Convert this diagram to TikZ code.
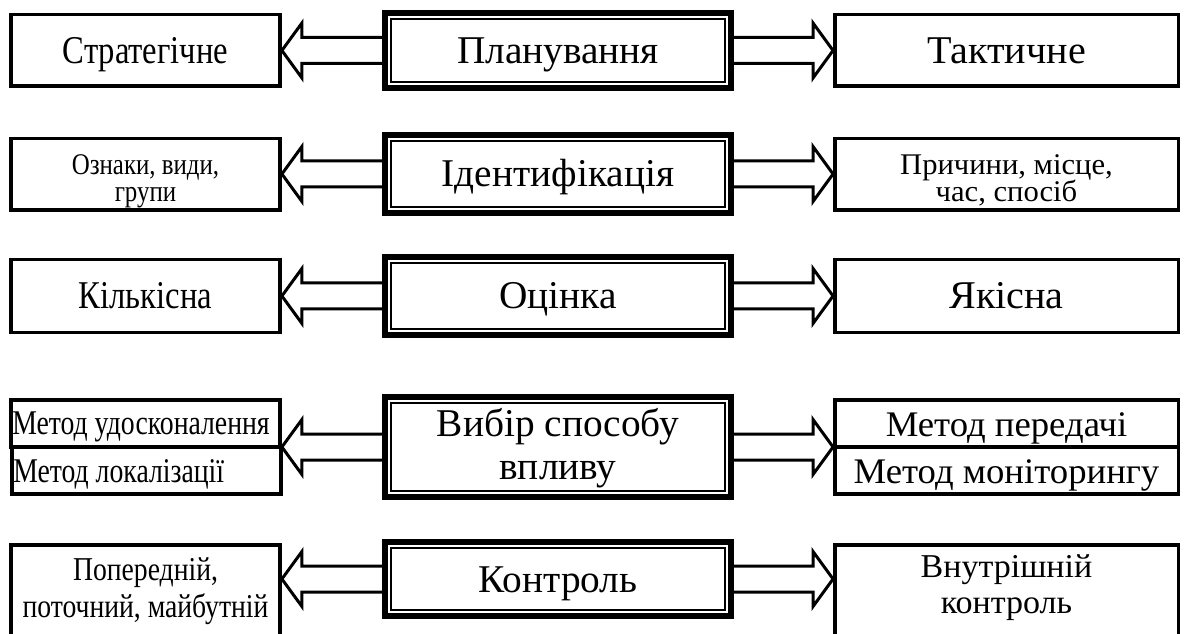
\documentclass[tikz,border=0pt]{standalone}
\usepackage{fontspec}
\setmainfont{Liberation Serif}
\newfontfamily\fL[FakeStretch=0.83]{Liberation Serif}
\newfontfamily\fLm[FakeStretch=0.8]{Liberation Serif}
\newfontfamily\fC[FakeStretch=1.0]{Liberation Serif}
\newfontfamily\fR[FakeStretch=1.02]{Liberation Serif}
\usetikzlibrary{calc}
\newcommand\leftarr[2]{\draw[arr] let \p1=(#1), \p2=(#2) in
  (\x1,\y1+9.75pt) -- (\x2+15pt,\y1+9.75pt) -- (\x2+15pt,\y1+20.6pt) -- (\x2,\y1)
  -- (\x2+15pt,\y1-20.6pt) -- (\x2+15pt,\y1-9.75pt) -- (\x1,\y1-9.75pt);}
\newcommand\rightarr[2]{\draw[arr] let \p1=(#1), \p2=(#2) in
  (\x1,\y1+9.75pt) -- (\x2-15pt,\y1+9.75pt) -- (\x2-15pt,\y1+20.6pt) -- (\x2,\y1)
  -- (\x2-15pt,\y1-20.6pt) -- (\x2-15pt,\y1-9.75pt) -- (\x1,\y1-9.75pt);}
\newcommand\innerframe[1]{\draw[innerline] ($(#1.north west)+(9,9)$) rectangle ($(#1.south east)+(-9,-9)$);}
\begin{document}
\begin{tikzpicture}[x=0.75pt,y=-0.75pt,
  sidebox/.style={draw, line width=2.6pt, inner sep=0pt, align=center},
  lbox/.style={sidebox, minimum width=202pt},
  rbox/.style={sidebox, minimum width=257.6pt},
  mainbox/.style={draw, line width=4.5pt, inner sep=0pt, align=center, minimum width=259.5pt},
  innerline/.style={line width=1.1pt},
  arr/.style={line width=2.25pt, line join=miter},
  capc/.style={text height=19.5pt, text depth=0pt},
  Lbig/.style={font=\fL\fontsize{29.5}{33}\selectfont, capc},
  Cbig/.style={font=\fC\fontsize{29.5}{33}\selectfont, capc},
  Rbig/.style={font=\fR\fontsize{29.5}{33}\selectfont, capc},
  Cln/.style={font=\fC\fontsize{29.5}{33}\selectfont, inner sep=0pt, anchor=base},
  Lsm/.style={font=\fL\fontsize{22.5}{26}\selectfont, inner sep=0pt, anchor=base},
  Rsm/.style={font=\fR\fontsize{22.5}{26}\selectfont, inner sep=0pt, anchor=base},
  Lmd/.style={font=\fLm\fontsize{26}{30}\selectfont, inner sep=0pt, anchor=base west},
  Rmd/.style={font=\fR\fontsize{27}{30}\selectfont, inner sep=0pt, anchor=base},
  L5/.style={font=\fL\fontsize{25}{30}\selectfont, inner sep=0pt, anchor=base},
  R5/.style={font=\fR\fontsize{25}{30}\selectfont, inner sep=0pt, anchor=base}
]
\useasboundingbox (0,0) rectangle (1185,634);
\clip (0,0) rectangle (1185,634);

% Row 1
\node[lbox, minimum height=53.6pt, Lbig] (l1) at (145.5,50.5) {Стратегічне};
\node[mainbox, minimum height=56.25pt, Cbig] (c1) at (558,50.5) {Планування};
\node[rbox, minimum height=53.6pt, Rbig] (r1) at (1006.5,50.5) {Тактичне};

% Row 2
\node[lbox, minimum height=53.6pt] (l2) at (145.5,174.5) {};
\node[Lsm] (l2a) at (145.5,175) {Ознаки, види,};
\node[Lsm] (l2b) at (145.5,202) {групи};
\node[mainbox, minimum height=58.5pt, Cbig] (c2) at (558,174) {Ідентифікація};
\node[rbox, minimum height=53.6pt] (r2) at (1006.5,174.5) {};
\node[Rsm] (r2a) at (1006.5,175) {Причини, місце,};
\node[Rsm] (r2b) at (1006.5,202) {час, спосіб};

% Row 3
\node[lbox, minimum height=54.4pt, Lbig] (l3) at (145.5,296) {Кількісна};
\node[mainbox, minimum height=58.5pt, Cbig] (c3) at (558,296) {Оцінка};
\node[rbox, minimum height=54.4pt, Rbig] (r3) at (1006.5,296) {Якісна};

% Row 4
\node[lbox, minimum height=35.4pt] (l4a) at (145.5,423.4) {};
\node[lbox, minimum height=35.4pt] (l4b) at (146.5,470.6) {};
\node[Lmd] (l4at) at (12,435) {Метод удосконалення};
\node[Lmd] (l4bt) at (13,482) {Метод локалізації};
\node[mainbox, minimum height=75pt] (c4) at (558,447) {};
\node[Cln] (c4a) at (558,436) {Вибір способу};
\node[Cln] (c4b) at (558,479) {впливу};
\node[rbox, minimum height=35.4pt] (r4a) at (1006.5,423.4) {};
\node[rbox, minimum height=35.4pt] (r4b) at (1006.5,470.6) {};
\node[Rmd] (r4at) at (1006.5,436) {Метод передачі};
\node[Rmd] (r4bt) at (1006.5,483) {Метод моніторингу};

% Row 5
\node[lbox, minimum height=101.4pt] (l5) at (145.5,612.4) {};
\node[L5] (l5a) at (145.5,580) {Попередній,};
\node[L5] (l5b) at (145.5,617) {поточний, майбутній};
\node[mainbox, minimum height=55.5pt, Cbig] (c5) at (558,579) {Контроль};
\node[rbox, minimum height=101.4pt] (r5) at (1006.5,612.4) {};
\node[R5] (r5a) at (1006.5,577) {Внутрішній};
\node[R5] (r5b) at (1006.5,613) {контроль};

% inner frames of main boxes
\foreach \n in {c1,c2,c3,c4,c5} {\innerframe{\n}}

% arrows
\leftarr{c1.west}{l1.east}
\rightarr{c1.east}{r1.west}
\leftarr{c2.west}{l2.east}
\rightarr{c2.east}{r2.west}
\leftarr{c3.west}{l3.east}
\rightarr{c3.east}{r3.west}
\leftarr{c4.west}{l4a.east}
\rightarr{c4.east}{r4a.west}
\leftarr{c5.west}{l5.east}
\rightarr{c5.east}{r5.west}
\end{tikzpicture}
\end{document}
